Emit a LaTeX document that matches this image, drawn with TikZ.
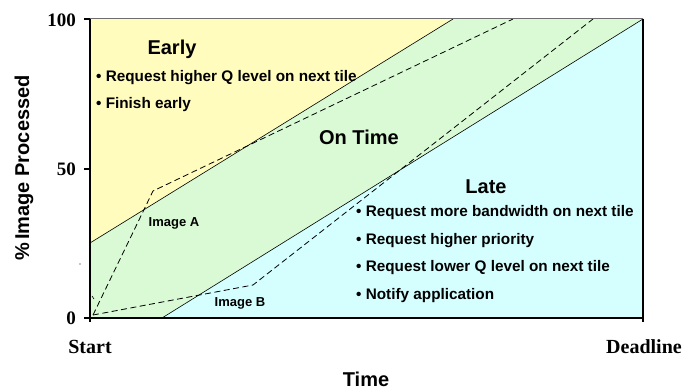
\documentclass[tikz,border=0pt]{standalone}
\usepackage{fontspec}
\setmainfont{Liberation Serif}
\setsansfont{Liberation Sans}
\begin{document}
\begin{tikzpicture}[x=1pt,y=-1pt,
  boundary/.style={black,line width=0.6pt},
  trace/.style={black,line width=0.8pt,dash pattern=on 6pt off 3.5pt},
  axisline/.style={black,line width=1.1pt},
  zonetitle/.style={font=\sffamily\bfseries\fontsize{20}{24}\selectfont,inner sep=0pt},
  bullets/.style={font=\sffamily\bfseries\fontsize{15.3}{27.7}\selectfont,inner sep=0pt,anchor=west,align=left},
  tracelabel/.style={font=\sffamily\bfseries\fontsize{13}{15}\selectfont,inner sep=0pt},
  ticklabel/.style={font=\rmfamily\bfseries\fontsize{19}{22}\selectfont,inner sep=0pt,anchor=east},
  axistitle/.style={font=\sffamily\bfseries\fontsize{20}{24}\selectfont,inner sep=0pt},
  endlabel/.style={font=\rmfamily\bfseries\fontsize{20}{24}\selectfont,inner sep=0pt}]
\useasboundingbox (0,0) rectangle (683,390);
\definecolor{earlyfill}{RGB}{255,252,190}
\definecolor{ontimefill}{RGB}{217,250,212}
\definecolor{latefill}{RGB}{213,255,255}
\definecolor{framegray}{RGB}{110,110,110}

% plot corners and zone boundaries
\coordinate (TL) at (90,19);
\coordinate (TR) at (643,19);
\coordinate (BL) at (90,318);
\coordinate (BR) at (643,318);
\coordinate (E1) at (90,243);
\coordinate (E2) at (453,19);
\coordinate (L1) at (162,318);

% zones
\fill[earlyfill] (TL) -- (E2) -- (E1) -- cycle;
\fill[ontimefill] (E2) -- (TR) -- (L1) -- (BL) -- (E1) -- cycle;
\fill[latefill] (TR) -- (BR) -- (L1) -- cycle;

\draw[boundary] (E1) -- (E2);
\draw[boundary] (L1) -- (TR);

% progress traces
\coordinate (O) at (93,315);
\coordinate (A1) at (153,191);
\coordinate (A2) at (513,19);
\coordinate (B1) at (253,285);
\coordinate (B2) at (593,19);
\draw[trace] (O) -- (A1) -- (A2);
\draw[trace] (O) -- (B1) -- (B2);

% stray marks
\coordinate (m1) at (92,296);
\coordinate (m2) at (94,299);
\draw[black,line width=0.6pt] (m1) -- (m2);
\fill[black] (80,264) circle (0.6pt);

% frame and axes
\draw[framegray,line width=1pt] (TL) -- (TR);
\draw[axisline] (TR) -- (643,322);
\draw[axisline] (TL) -- (90,322);
\draw[axisline] (BL) -- (BR);
\foreach \yy in {19,169,318} \draw[axisline] (84,\yy) -- (90,\yy);

% tick labels
\node[ticklabel] (t100) at (76,20) {100};
\node[ticklabel] (t50) at (76,169) {50};
\node[ticklabel] (t0) at (76,318) {0};
\node[endlabel] (start) at (90,347) {Start};
\node[endlabel] (deadline) at (644,347) {Deadline};
\node[axistitle] (time) at (366,379) {Time};
\node[axistitle,rotate=90] (ylab) at (24,168) {\%\,Image Processed};

% zone titles and actions
\node[zonetitle] (early) at (172,49) {Early};
\node[bullets] (earlylist) at (96,91) {• Request higher Q level on next tile\\• Finish early};
\node[zonetitle] (ontime) at (359,137) {On Time};
\node[zonetitle] (late) at (486,187) {Late};
\node[bullets] (latelist) at (356,254) {• Request more bandwidth on next tile\\• Request higher priority\\• Request lower Q level on next tile\\• Notify application};

% trace labels
\node[tracelabel] (imga) at (174,223) {Image A};
\node[tracelabel] (imgb) at (240,303) {Image B};
\end{tikzpicture}
\end{document}
